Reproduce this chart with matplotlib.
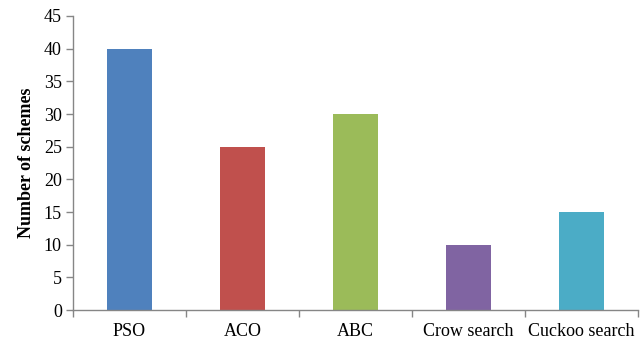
import matplotlib
matplotlib.use("Agg")
import matplotlib.pyplot as plt
import numpy as np

categories = ["PSO", "ACO", "ABC", "Crow search", "Cuckoo search"]
schemes = [40, 25, 30, 10, 15]
colors = ["#4F81BD", "#C0504D", "#9BBB59", "#8064A2", "#4BACC6"]
yticks = [0, 5, 10, 15, 20, 25, 30, 35, 40, 45]

plt.rcParams["font.family"] = ["Liberation Serif", "DejaVu Serif"]

fig = plt.figure(figsize=(6.4, 3.4), dpi=100)
ax = fig.add_axes([0.114, 0.088, 0.883, 0.865])

x = np.arange(len(categories))
ax.bar(x, schemes, width=0.4, color=colors, zorder=2)

ax.set_xlim(-0.5, len(categories) - 0.5)
ax.set_ylim(0, 45)
ax.set_yticks(yticks)
ax.tick_params(axis="y", labelsize=13, length=5, width=1, color="#868686",
               direction="out", pad=3)

# category labels centred under bars, tick marks on category boundaries
ax.set_xticks(x)
ax.set_xticklabels(categories, fontsize=13)
ax.tick_params(axis="x", which="major", length=0, pad=9)
ax.set_xticks(np.arange(-0.5, len(categories) + 0.5, 1.0), minor=True)
ax.tick_params(axis="x", which="minor", length=5, width=1, color="#868686",
               direction="out")

for side in ("top", "right"):
    ax.spines[side].set_visible(False)
for side in ("left", "bottom"):
    ax.spines[side].set_color("#868686")
    ax.spines[side].set_linewidth(1)

ax.set_ylabel("Number of schemes", fontsize=13, fontweight="bold", labelpad=6)

fig.savefig("out.png", dpi=100)
